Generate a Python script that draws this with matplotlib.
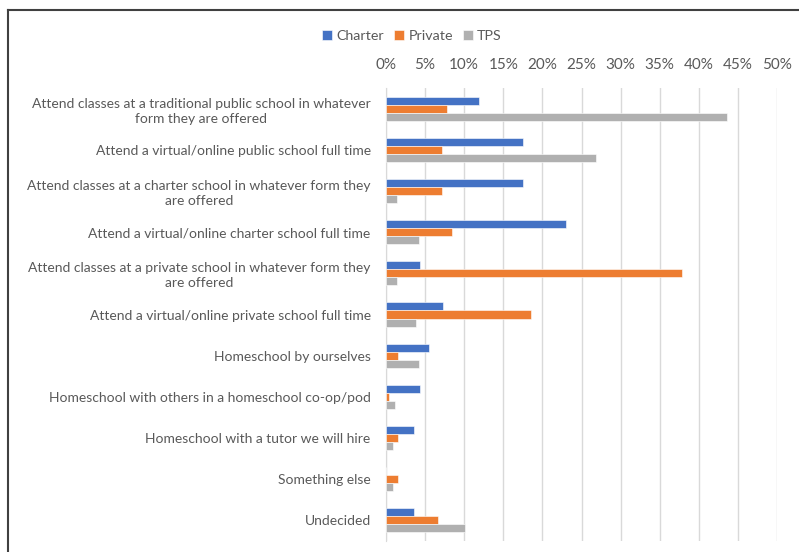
import matplotlib
matplotlib.use("Agg")
import matplotlib.pyplot as plt
from matplotlib.lines import Line2D
from matplotlib.ticker import FuncFormatter
import numpy as np

# Survey options (top to bottom) and share of respondents per school type (%)
options = [
    "Attend classes at a traditional public school in whatever\nform they are offered",
    "Attend a virtual/online public school full time",
    "Attend classes at a charter school in whatever form they\nare offered",
    "Attend a virtual/online charter school full time",
    "Attend classes at a private school in whatever form they\nare offered",
    "Attend a virtual/online private school full time",
    "Homeschool by ourselves",
    "Homeschool with others in a homeschool co-op/pod",
    "Homeschool with a tutor we will hire",
    "Something else",
    "Undecided",
]
charter = [11.9, 17.5, 17.5, 23.0, 4.4, 7.3, 5.5, 4.4, 3.6, 0.0, 3.6]
private = [7.8, 7.2, 7.2, 8.4, 37.8, 18.5, 1.5, 0.4, 1.5, 1.5, 6.7]
tps = [43.6, 26.9, 1.4, 4.2, 1.4, 3.8, 4.2, 1.2, 0.9, 0.9, 10.1]

series = [("Charter", charter, "#4472C4"),
          ("Private", private, "#ED7D31"),
          ("TPS", tps, "#B0B0B0")]

plt.rcParams["font.family"] = ["Lato", "DejaVu Sans"]
text_color = "#595959"

fig = plt.figure(figsize=(7.99, 5.52), dpi=100)
ax = fig.add_axes([0.4831, 0.0208, 0.4894, 0.8189])

y = np.arange(len(options))
h = 0.195
for i, (name, vals, color) in enumerate(series):
    ax.barh(y + (i - 1) * h, vals, height=h, color=color, label=name,
            edgecolor="white", linewidth=0.4, zorder=3)

ax.set_xlim(0, 50)
ax.set_ylim(len(options) - 0.5, -0.5)
ax.set_xticks(np.arange(0, 51, 5))
ax.xaxis.set_major_formatter(FuncFormatter(lambda v, _: f"{v:.0f}%"))
ax.xaxis.tick_top()
ax.tick_params(axis="x", length=0, pad=12, labelsize=11, labelcolor=text_color)
ax.set_yticks(y)
ax.set_yticklabels(options, fontsize=10.0, color=text_color,
                   multialignment="center", linespacing=1.3)
ax.tick_params(axis="y", length=0, pad=11)
ax.grid(axis="x", color="#D9D9D9", linewidth=1, zorder=0)
for side in ["top", "right", "bottom"]:
    ax.spines[side].set_visible(False)
ax.spines["left"].set_color("#D9D9D9")

fig.legend(loc="center", bbox_to_anchor=(412 / 799, 1 - 36 / 552), ncol=3,
           frameon=False, fontsize=10.3, labelcolor=text_color,
           handlelength=0.7, handleheight=0.7, handletextpad=0.3,
           columnspacing=0.7)

# chart frame edges (top and left)
fig.add_artist(Line2D([8 / 799, 1.0], [1 - 10 / 552, 1 - 10 / 552],
                      color="#404040", linewidth=1.5))
fig.add_artist(Line2D([8 / 799, 8 / 799], [0.0, 1 - 10 / 552],
                      color="#404040", linewidth=1.5))

fig.savefig("out.png", dpi=100)
